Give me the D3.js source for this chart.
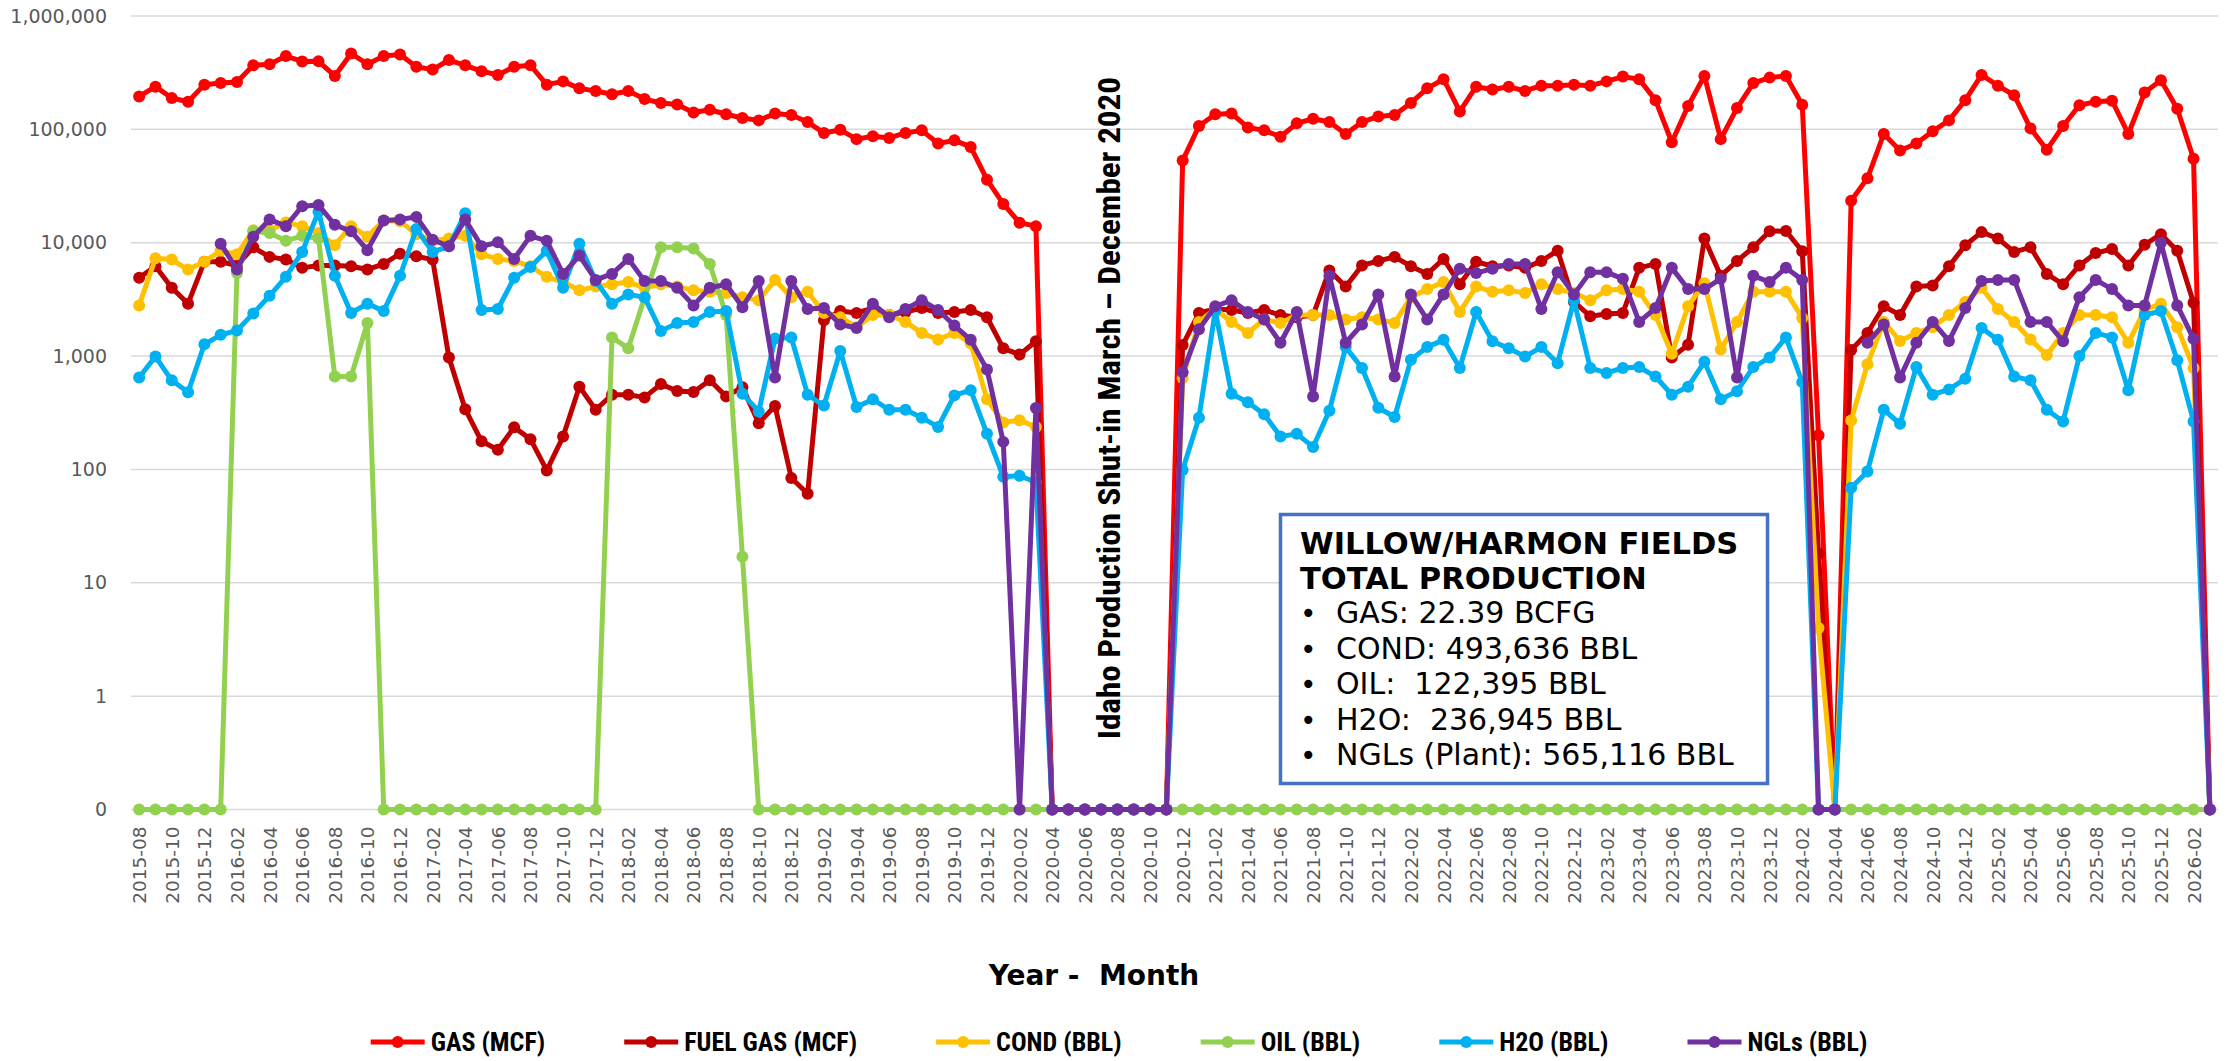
<!DOCTYPE html>
<html>
<head>
<meta charset="utf-8">
<script src="https://cdn.jsdelivr.net/npm/d3@7/dist/d3.min.js"></script>
<style>
  body { margin: 0; background: #ffffff; }
  svg { display: block; }
</style>
</head>
<body>
<svg id="chart" width="2229" height="1061"></svg>
<script>
// Categories: one point per month
const firstMonth = "2015-08", lastMonth = "2026-03";
const parseMonth = d3.timeParse("%Y-%m"), fmtMonth = d3.timeFormat("%Y-%m");
const months = d3.timeMonth.range(parseMonth(firstMonth), d3.timeMonth.offset(parseMonth(lastMonth), 1)).map(fmtMonth);
const monthTicks = months.filter((m, i) => i % 2 === 0);

// Y tick values (the bottom "0" line is 0.1 on the log axis)
const yTicks = [0.1, 1, 10, 100, 1000, 10000, 100000, 1000000];

// Series values (0 = shut in, null = no value)
const gas = [195000,238000,189000,175000,248000,256000,262000,367000,376000,443000,
  397000,398000,296000,467000,376000,443000,457000,356000,337000,409000,
  367000,326000,302000,356000,367000,248000,265000,230000,218000,204000,
  218000,185000,171000,166000,141000,149000,136000,126000,120000,138000,
  134000,116000,93000,99000,82000,87000,84000,93000,98000,75000,
  80000,70000,36000,22000,15000,14000,0,0,0,0,
  0,0,0,0,53000,107000,136000,138000,104000,98000,
  86000,113000,124000,116000,91000,116000,130000,134000,171000,230000,
  277000,144000,238000,225000,238000,218000,243000,243000,248000,243000,
  265000,292000,277000,181000,77000,161000,296000,82000,154000,256000,
  286000,296000,165000,200,0,23500,37000,91000,65000,75000,
  96000,120000,181000,302000,243000,200000,102000,66000,107000,163000,
  175000,179000,91000,211000,271000,152000,55000,0];

const fuelGas = [4900,6200,4000,2900,6800,6800,6300,9100,7500,7100,
  6000,6300,6300,6200,5800,6500,8000,7600,7100,970,
  340,177,149,235,185,98,195,537,336,456,
  456,432,566,492,481,611,441,531,256,362,
  84,61,2070,2500,2400,2650,2300,2450,2650,2400,
  2450,2550,2200,1170,1030,1350,0,0,0,0,
  0,0,0,0,1250,2400,2600,2550,2400,2550,
  2300,2200,2300,5700,4100,6300,6900,7500,6200,5300,
  7200,4300,6800,6200,6300,6000,6900,8500,3000,2250,
  2350,2400,6000,6500,970,1260,10900,5100,6900,9100,
  12600,12700,8400,18,0,1130,1600,2750,2300,4100,
  4200,6200,9500,12400,10900,8300,9100,5300,4300,6300,
  8100,8800,6300,9600,11900,8500,2950,0];

const cond = [2800,7300,7100,5800,6800,8500,7900,12900,12900,15100,
  14000,12200,9500,14000,11300,15700,15500,11900,10400,10900,
  11500,7900,7200,6900,6200,5000,4500,3800,4100,4300,
  4500,4000,4300,4100,3800,3700,3600,3300,3100,4700,
  3300,3700,2400,2200,1800,2300,2300,2000,1600,1400,
  1600,1300,415,260,272,237,0,0,0,0,
  0,0,0,0,640,2000,2600,2000,1600,2100,
  1960,2300,2300,2300,2100,2200,2100,1960,3300,3900,
  4500,2450,4100,3700,3800,3600,4300,3900,3600,3100,
  3800,3900,3700,2300,1050,2750,4400,1140,2000,3700,
  3700,3700,2170,4,0,270,845,2000,1360,1600,
  1800,2300,3000,4000,2600,2000,1400,1020,1600,2300,
  2300,2200,1310,2550,2900,1800,785,0];

const oil = [0,0,0,0,0,0,5400,12600,12200,10400,
  11500,10900,660,660,1960,0,0,0,0,0,
  0,0,0,0,0,0,0,0,0,1460,
  1170,3300,9100,9100,8900,6500,2300,17,0,0,
  0,0,0,0,0,0,0,0,0,0,
  0,0,0,0,0,0,0,0,0,0,
  0,0,0,0,0,0,0,0,0,0,
  0,0,0,0,0,0,0,0,0,0,
  0,0,0,0,0,0,0,0,0,0,
  0,0,0,0,0,0,0,0,0,0,
  0,0,0,0,0,0,0,0,0,0,
  0,0,0,0,0,0,0,0,0,0,
  0,0,0,0,0,0,0,0];

const h2o = [646,990,611,480,1270,1540,1680,2380,3400,5000,
  8300,18800,5100,2400,2900,2500,5100,13200,8300,9300,
  18200,2550,2600,4900,6100,8500,4000,9800,4600,2900,
  3500,3300,1660,1960,2000,2450,2500,466,325,1430,
  1460,456,366,1110,355,415,336,336,286,237,
  450,500,206,86,88,77,0,0,0,0,
  0,0,0,0,99,286,2500,466,392,306,
  195,206,158,330,1200,785,350,290,930,1200,
  1390,785,2450,1350,1170,990,1200,865,3100,785,
  710,785,800,660,456,537,890,415,490,800,
  970,1460,589,0,0,69,96,336,253,800,
  456,508,631,1770,1390,660,611,336,265,1000,
  1600,1460,500,2300,2500,920,265,0];

const ngl = [null,null,null,null,null,9800,5800,11300,16000,14000,
  21000,21500,14400,12600,8600,15700,16000,16900,10600,9300,
  16000,9300,10100,7200,11500,10400,5300,7700,4700,5300,
  7200,4600,4600,4000,2800,4000,4300,2700,4600,646,
  4600,2600,2650,1900,1770,2900,2200,2600,3100,2550,
  1860,1390,760,175,0,348,0,0,0,0,
  0,0,0,0,720,1720,2750,3100,2450,2100,
  1310,2450,440,5100,1310,1900,3500,660,3500,2100,
  3500,5900,5400,5900,6500,6500,2600,5500,3500,5500,
  5500,4800,2000,2650,6000,3900,3900,4800,646,5100,
  4500,6000,4700,0,0,null,1310,1900,646,1310,
  2000,1360,2650,4600,4700,4700,2000,2000,1350,3300,
  4700,3900,2800,2800,10000,2800,1420,0];

const seriesNames = ["GAS (MCF)", "FUEL GAS (MCF)", "COND (BBL)", "OIL (BBL)", "H2O (BBL)", "NGLs (BBL)"];
const seriesColors = ["#FF0000", "#C00000", "#FFC000", "#92D050", "#00B0F0", "#7030A0"];
const seriesValues = [gas, fuelGas, cond, oil, h2o, ngl];

// Text box lines
const boxTitle = ["WILLOW/HARMON FIELDS", "TOTAL PRODUCTION"];
const boxItems = ["GAS: 22.39 BCFG", "COND: 493,636 BBL", "OIL:  122,395 BBL", "H2O:  236,945 BBL", "NGLs (Plant): 565,116 BBL"];

// Layout
const plot = {left: 131, right: 2218, top: 16, bottom: 809.5};
const axisFont = "'DejaVu Sans', Verdana, sans-serif";
const narrowFont = "'Liberation Sans Narrow', 'Arial Narrow', 'Roboto Condensed', sans-serif";

const svg = d3.select("#chart");

const x = d3.scalePoint()
  .domain(months)
  .range([plot.left, plot.right])
  .padding(0.5);

const y = d3.scaleLog()
  .domain([0.1, 1000000])
  .range([plot.bottom, plot.top]);

// Gridlines
svg.append("g")
  .selectAll("line")
  .data(yTicks)
  .enter().append("line")
  .attr("x1", plot.left)
  .attr("x2", plot.right)
  .attr("y1", d => y(d))
  .attr("y2", d => y(d))
  .attr("stroke", "#d9d9d9")
  .attr("stroke-width", 1.5);

// Y axis
const yAxis = svg.append("g")
  .attr("transform", `translate(${plot.left}, 0)`)
  .call(d3.axisLeft(y).tickValues(yTicks).tickFormat(d3.format(",.0f")).tickSize(0).tickPadding(24));
yAxis.select(".domain").remove();
yAxis.selectAll("text")
  .attr("font-family", axisFont)
  .attr("font-size", "19px")
  .attr("fill", "#595959");

// X axis
const xAxis = svg.append("g")
  .attr("transform", `translate(0, ${plot.bottom})`)
  .call(d3.axisBottom(x).tickValues(monthTicks).tickSize(0));
xAxis.select(".domain").remove();
xAxis.selectAll("text")
  .attr("font-family", axisFont)
  .attr("font-size", "18.5px")
  .attr("fill", "#595959")
  .attr("transform", "rotate(-90)")
  .attr("x", -17)
  .attr("y", 0)
  .attr("dy", "0.35em")
  .attr("text-anchor", "end");

// Lines and markers
const line = d3.line()
  .defined(d => d.v !== null)
  .x(d => x(d.m))
  .y(d => y(Math.max(d.v, 0.1)));

seriesValues.forEach((vals, s) => {
  const pts = vals.map((v, i) => ({m: months[i], v: v}));
  const g = svg.append("g");
  g.append("path")
    .datum(pts)
    .attr("d", line)
    .attr("fill", "none")
    .attr("stroke", seriesColors[s])
    .attr("stroke-width", 5)
    .attr("stroke-linejoin", "round")
    .attr("stroke-linecap", "round");
  g.selectAll("circle")
    .data(pts.filter(d => d.v !== null))
    .enter().append("circle")
    .attr("cx", d => x(d.m))
    .attr("cy", d => y(Math.max(d.v, 0.1)))
    .attr("r", 6)
    .attr("fill", seriesColors[s]);
});

// Shut-in note
svg.append("text")
  .attr("transform", "translate(1120, 408) rotate(-90)")
  .attr("text-anchor", "middle")
  .attr("font-family", narrowFont)
  .attr("font-weight", "bold")
  .attr("font-size", "31px")
  .attr("textLength", 662)
  .attr("lengthAdjust", "spacingAndGlyphs")
  .attr("fill", "#000")
  .text("Idaho Production Shut-in March \u2013 December 2020");

// Text box
const box = svg.append("g");
box.append("rect")
  .attr("x", 1280.5)
  .attr("y", 514.5)
  .attr("width", 487)
  .attr("height", 269)
  .attr("fill", "#fff")
  .attr("stroke", "#4472C4")
  .attr("stroke-width", 3.5);
boxTitle.forEach((t, i) => {
  box.append("text")
    .attr("x", 1300)
    .attr("y", 554 + i * 34.5)
    .attr("font-family", axisFont)
    .attr("font-weight", "bold")
    .attr("font-size", "30.5px")
    .text(t);
});
boxItems.forEach((t, i) => {
  const yy = 623 + i * 35.5;
  box.append("text")
    .attr("x", 1300)
    .attr("y", yy)
    .attr("font-family", axisFont)
    .attr("font-size", "28px")
    .text("\u2022");
  box.append("text")
    .attr("x", 1336)
    .attr("y", yy)
    .attr("font-family", axisFont)
    .attr("font-size", "30px")
    .style("white-space", "pre")
    .text(t);
});

// Axis title
svg.append("text")
  .attr("x", 1094)
  .attr("y", 985)
  .attr("text-anchor", "middle")
  .attr("font-family", axisFont)
  .attr("font-weight", "bold")
  .attr("font-size", "28px")
  .style("white-space", "pre")
  .text("Year -  Month");

// Legend
const legend = svg.append("g").attr("transform", "translate(0, 1042)");
const items = legend.selectAll("g")
  .data(seriesNames)
  .enter().append("g");
items.append("line")
  .attr("x1", 0).attr("x2", 54)
  .attr("stroke", (d, i) => seriesColors[i])
  .attr("stroke-width", 5);
items.append("circle")
  .attr("cx", 27).attr("r", 6)
  .attr("fill", (d, i) => seriesColors[i]);
items.append("text")
  .attr("x", 60)
  .attr("dy", "0.35em")
  .attr("font-family", narrowFont)
  .attr("font-weight", "bold")
  .attr("font-size", "26px")
  .text(d => d);

// Lay legend items out in a row, centred
let offset = 0;
const widths = [];
items.each(function() {
  widths.push(60 + this.querySelector("text").getComputedTextLength());
});
const totalWidth = d3.sum(widths) + 79 * (widths.length - 1);
offset = 1119 - totalWidth / 2;
items.attr("transform", (d, i) => {
  const t = `translate(${offset}, 0)`;
  offset += widths[i] + 79;
  return t;
});
</script>
</body>
</html>
